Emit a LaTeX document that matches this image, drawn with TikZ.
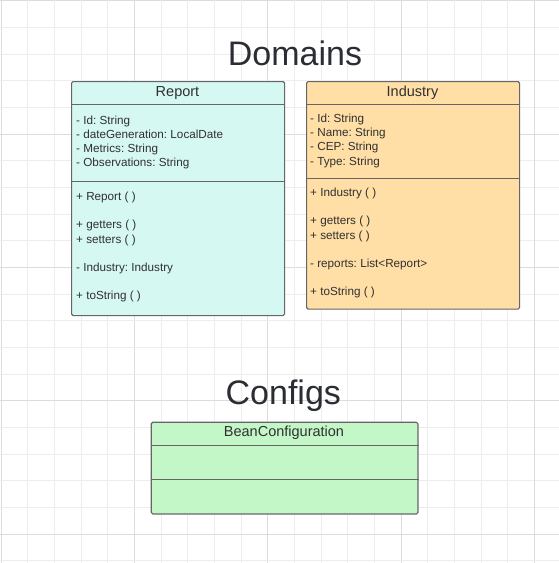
\documentclass[tikz,border=0pt]{standalone}
\usepackage{fontspec}
\setmainfont{Liberation Sans}
\frenchspacing
\definecolor{gridminor}{HTML}{EDEDED}
\definecolor{gridmajor}{HTML}{DCDCDC}
\definecolor{boxline}{HTML}{666666}
\definecolor{reportfill}{HTML}{D6F8F3}
\definecolor{industryfill}{HTML}{FFDFA6}
\definecolor{beanfill}{HTML}{C3F7C7}
\definecolor{txt}{HTML}{303030}
\definecolor{titletxt}{HTML}{2A2D33}
\tikzset{
  umlbox/.style={draw=boxline, line width=1.1pt, rounded corners=1.5pt, inner sep=0pt, anchor=north west},
  sepline/.style={draw=boxline, line width=1pt},
  headtxt/.style={text=txt, inner sep=0pt, anchor=base, font=\fontsize{14.5}{17}\selectfont},
  membertxt/.style={text=txt, inner sep=0pt, anchor=base west, font=\fontsize{11.7}{14.1}\selectfont},
  titlefont/.style={text=titletxt, inner sep=0pt, anchor=base, font=\fontsize{34}{40}\selectfont},
}
\begin{document}
\begin{tikzpicture}[x=1pt,y=-1pt]
\useasboundingbox (0,0) rectangle (559,563);
\fill[white] (0,0) rectangle (559,563);
% grid
\foreach \k in {0,...,21}{
  \pgfmathsetmacro{\gx}{1.3+\k*26.667}
  \pgfmathsetmacro{\gy}{0.8+\k*26.667}
  \pgfmathtruncatemacro{\mj}{mod(\k,5)}
  \ifnum\mj=0
    \draw[gridmajor, line width=1pt] (\gx,0) -- (\gx,563);
    \draw[gridmajor, line width=1pt] (0,\gy) -- (559,\gy);
  \else
    \draw[gridminor, line width=1pt] (\gx,0) -- (\gx,563);
    \draw[gridminor, line width=1pt] (0,\gy) -- (559,\gy);
  \fi
}
% titles
\node[titlefont] (domains) at (295,65) {Domains};
\node[titlefont] (configs) at (283.3,404.3) {Configs};

% Report class
\node[umlbox, fill=reportfill, minimum width=213pt, minimum height=234pt] (report) at (71,81) {};
\draw[sepline] ([yshift=-23pt]report.north west) -- ([yshift=-23pt]report.north east);
\draw[sepline] ([yshift=-100pt]report.north west) -- ([yshift=-100pt]report.north east);
\node[headtxt] (reporthead) at (177.5,96.7) {Report};
\foreach \t [count=\i] in {- Id: String, - dateGeneration: LocalDate, - Metrics: String, - Observations: String}{
  \node[membertxt] (ra\i) at (76,{124.3+14.1*(\i-1)}) {\t};
}
\node[membertxt] (rm1) at (76,200.7) {+ Report ( )};
\node[membertxt] (rm2) at (76,228.9) {+ getters ( )};
\node[membertxt] (rm3) at (76,243.0) {+ setters ( )};
\node[membertxt] (rm4) at (76,271.2) {- Industry: Industry};
\node[membertxt] (rm5) at (76,299.4) {+ toString ( )};

% Industry class
\node[umlbox, fill=industryfill, minimum width=213pt, minimum height=227.5pt] (industry) at (306,81) {};
\draw[sepline] ([yshift=-23pt]industry.north west) -- ([yshift=-23pt]industry.north east);
\draw[sepline] ([yshift=-97.3pt]industry.north west) -- ([yshift=-97.3pt]industry.north east);
\node[headtxt] (industryhead) at (412.5,96.7) {Industry};
\foreach \t [count=\i] in {- Id: String, - Name: String, - CEP: String, - Type: String}{
  \node[membertxt] (ia\i) at (310,{122.7+14.1*(\i-1)}) {\t};
}
\node[membertxt] (im1) at (310,196.7) {+ Industry ( )};
\node[membertxt] (im2) at (310,224.9) {+ getters ( )};
\node[membertxt] (im3) at (310,239.0) {+ setters ( )};
\node[membertxt] (im4) at (310,267.2) {- reports: List<Report>};
\node[membertxt] (im5) at (310,295.4) {+ toString ( )};

% BeanConfiguration class
\node[umlbox, fill=beanfill, minimum width=266.7pt, minimum height=91.7pt] (bean) at (150.7,421.7) {};
\draw[sepline] ([yshift=-23.3pt]bean.north west) -- ([yshift=-23.3pt]bean.north east);
\draw[sepline] ([yshift=-57.6pt]bean.north west) -- ([yshift=-57.6pt]bean.north east);
\node[headtxt] (beanhead) at (284,436.7) {BeanConfiguration};
\end{tikzpicture}
\end{document}
